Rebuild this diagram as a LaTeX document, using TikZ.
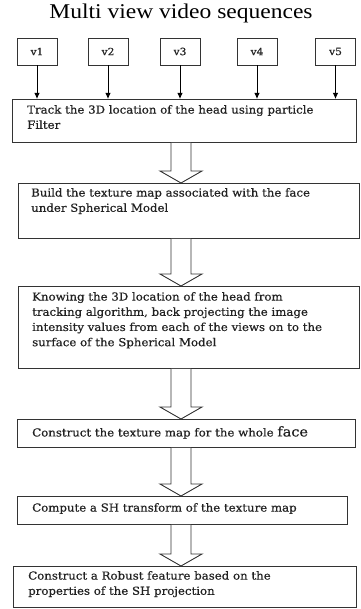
\documentclass[tikz,border=0pt]{standalone}
\usepackage{fontspec}
\setmainfont{DejaVu Serif}
\newfontfamily\boxfont[FakeStretch=1.07,FakeBold=0.5]{DejaVu Serif}
\newfontfamily\titlefont[FakeStretch=1.12]{Liberation Serif}
\usetikzlibrary{calc,arrows.meta}
\definecolor{ink}{HTML}{222222}
\definecolor{edge}{HTML}{333333}
\begin{document}
\begin{tikzpicture}[x=1pt,y=-1pt,
  vbox/.style={draw=edge,line width=0.9pt,minimum width=40pt,minimum height=27pt,inner sep=0pt,
    font=\boxfont\fontsize{10}{12}\selectfont,text=ink},
  stepbox/.style={draw=edge,line width=0.9pt,inner sep=0pt,anchor=north west},
  boxtext/.style={anchor=north west,inner sep=0pt,align=left,text=ink,
    font=\boxfont\fontsize{11}{15.2}\selectfont},
  varrow/.style={draw=black,line width=0.9pt,-{Latex[length=6pt,width=5.5pt]}},
  harrow/.style={draw=edge,line width=0.9pt,fill=white,line join=miter}]
\useasboundingbox (0,0) rectangle (360,609);
\fill[white] (0,0) rectangle (360,609);
\node[inner sep=0pt,text=black,font=\titlefont\fontsize{21}{24}\selectfont] (title) at (181,13) {Multi view video sequences};
% view boxes
\node[vbox] (v1) at (37,51.5) {v1};
\node[vbox] (v2) at (108,51.5) {v2};
\node[vbox] (v3) at (180,51.5) {v3};
\node[vbox] (v4) at (257,51.5) {v4};
\node[vbox] (v5) at (335.5,51.5) {v5};
% process boxes
\node[stepbox,minimum width=344pt,minimum height=43pt] (b1) at (12,99) {};
\node[stepbox,minimum width=341pt,minimum height=55pt] (b2) at (18,183) {};
\node[stepbox,minimum width=341pt,minimum height=82pt] (b3) at (18,286) {};
\node[stepbox,minimum width=338pt,minimum height=28pt] (b4) at (17,419) {};
\node[stepbox,minimum width=330pt,minimum height=28pt] (b5) at (17,496) {};
\node[stepbox,minimum width=343pt,minimum height=41pt] (b6) at (13,566) {};
% texts
\node[boxtext] (t1) at ($(b1.north west)+(15,6)$) {Track the 3D location of the head using particle\\Filter};
\node[boxtext] (t2) at ($(b2.north west)+(13,5)$) {Build the texture map associated with the face\\under Spherical Model};
\node[boxtext] (t3) at ($(b3.north west)+(14,6)$) {Knowing the 3D location of the head from\\tracking algorithm, back projecting the image\\intensity values from each of the views on to the\\surface of the Spherical Model};
\node[boxtext] (t4) at ($(b4.north west)+(15,7)$) {Construct the texture map for the whole {\fontsize{13.5}{15}\selectfont face}};
\node[boxtext] (t5) at ($(b5.north west)+(15,7)$) {Compute a SH transform of the texture map};
\node[boxtext] (t6) at ($(b6.north west)+(15,5)$) {Construct a Robust feature based on the\\properties of the SH projection};
% view arrows
\foreach \v in {v1,v2,v3,v4,v5}
  \draw[varrow] (\v.south) -- (\v.south |- b1.north);
% hollow arrows
\coordinate (ax) at (181,0);
\foreach \a/\b in {b1/b2,b2/b3,b3/b4,b4/b5,b5/b6}
  \draw[harrow] ($(\a.south -| ax)+(-10,0)$) -- ($(\b.north -| ax)+(-10,-12)$)
    -- ($(\b.north -| ax)+(-21,-12)$) -- (\b.north -| ax)
    -- ($(\b.north -| ax)+(21,-12)$) -- ($(\b.north -| ax)+(10,-12)$)
    -- ($(\a.south -| ax)+(10,0)$);
\end{tikzpicture}
\end{document}
